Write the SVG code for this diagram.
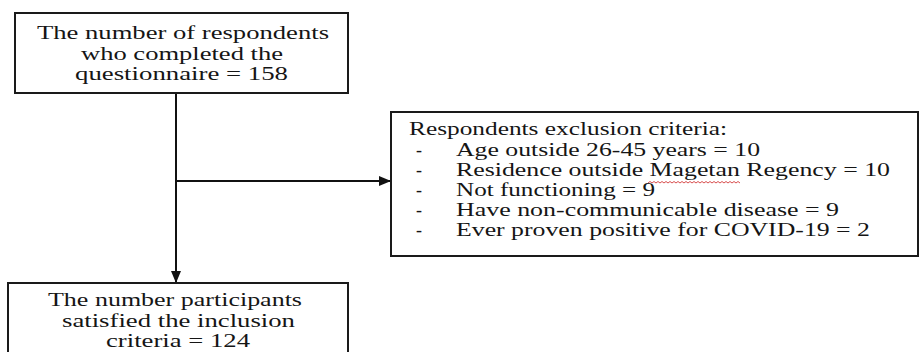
<svg xmlns="http://www.w3.org/2000/svg" width="921" height="352" viewBox="0 0 921 352">
  <style>
    .box { fill: #ffffff; stroke: #1a1a1a; stroke-width: 2; }
    .t { font-family: "Liberation Serif", "Times New Roman", serif; font-size: 18px; fill: #151515; }
    .edge { stroke: #111111; stroke-width: 2; fill: none; }
    .spell { stroke: #d23a3a; stroke-width: 0.9; fill: none; }
  </style>
  <defs>
    <marker id="arrow" viewBox="0 0 12 10" refX="12" refY="5" markerWidth="12" markerHeight="10" markerUnits="userSpaceOnUse" orient="auto">
      <path d="M0,0 L12,5 L0,10 Z" fill="#111111"/>
    </marker>
  </defs>
  <rect width="921" height="352" fill="#ffffff"/>

  <!-- connectors -->
  <g id="connectors">
    <line class="edge" x1="176" y1="93" x2="176" y2="283" marker-end="url(#arrow)"/>
    <line class="edge" x1="176" y1="181" x2="391" y2="181" stroke-width="1.6" marker-end="url(#arrow)"/>
  </g>

  <!-- respondents who completed the questionnaire -->
  <g id="completed">
    <rect class="box" x="15" y="13" width="333" height="80"/>
    <text class="t" x="37" y="39" textLength="292" lengthAdjust="spacingAndGlyphs">The number of respondents</text>
    <text class="t" x="81" y="60" textLength="202" lengthAdjust="spacingAndGlyphs">who completed the</text>
    <text class="t" x="75" y="80" textLength="213" lengthAdjust="spacingAndGlyphs">questionnaire = 158</text>
  </g>

  <!-- exclusion criteria -->
  <g id="exclusion">
    <rect class="box" x="391" y="112" width="527" height="144"/>
    <text class="t" x="409" y="135" textLength="318" lengthAdjust="spacingAndGlyphs">Respondents exclusion criteria:</text>
    <text class="t" x="416" y="156">-</text>
    <text class="t" x="456" y="156" textLength="304" lengthAdjust="spacingAndGlyphs">Age outside 26-45 years = 10</text>
    <text class="t" x="416" y="176">-</text>
    <text class="t" x="456" y="176" textLength="434" lengthAdjust="spacingAndGlyphs">Residence outside Magetan Regency = 10</text>
    <path class="spell" d="M648,183 l2,-1.5 l2,1.5 l2,-1.5 l2,1.5 l2,-1.5 l2,1.5 l2,-1.5 l2,1.5 l2,-1.5 l2,1.5 l2,-1.5 l2,1.5 l2,-1.5 l2,1.5 l2,-1.5 l2,1.5 l2,-1.5 l2,1.5 l2,-1.5 l2,1.5 l2,-1.5 l2,1.5 l2,-1.5 l2,1.5 l2,-1.5 l2,1.5 l2,-1.5 l2,1.5 l2,-1.5 l2,1.5 l2,-1.5 l2,1.5 l2,-1.5 l2,1.5 l2,-1.5 l2,1.5 l2,-1.5 l2,1.5 l2,-1.5 l2,1.5 l2,-1.5 l2,1.5 l2,-1.5 l2,1.5 l2,-1.5 l2,1.5"/>
    <text class="t" x="416" y="196">-</text>
    <text class="t" x="456" y="196" textLength="199" lengthAdjust="spacingAndGlyphs">Not functioning = 9</text>
    <text class="t" x="416" y="216">-</text>
    <text class="t" x="456" y="216" textLength="383" lengthAdjust="spacingAndGlyphs">Have non-communicable disease = 9</text>
    <text class="t" x="416" y="236">-</text>
    <text class="t" x="456" y="236" textLength="414" lengthAdjust="spacingAndGlyphs">Ever proven positive for COVID-19 = 2</text>
  </g>

  <!-- participants satisfying the inclusion criteria -->
  <g id="included">
    <rect class="box" x="8" y="283" width="340" height="80"/>
    <text class="t" x="48" y="306" textLength="254" lengthAdjust="spacingAndGlyphs">The number participants</text>
    <text class="t" x="62" y="327" textLength="233" lengthAdjust="spacingAndGlyphs">satisfied the inclusion</text>
    <text class="t" x="106" y="347" textLength="144" lengthAdjust="spacingAndGlyphs">criteria = 124</text>
  </g>
</svg>
